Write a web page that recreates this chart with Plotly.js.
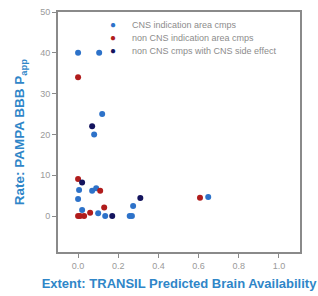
<!DOCTYPE html>
<html><head><meta charset="utf-8">
<script src="https://cdn.plot.ly/plotly-3.0.1.min.js"></script>
<style>html,body{margin:0;padding:0;background:#fff}#c{width:318px;height:296px}</style>
</head><body><div id="c"></div>
<script>
const seriesNames = ["CNS indication area cmps", "non CNS indication area cmps", "non CNS cmps with CNS side effect"];
const seriesColors = ["#2d72c9", "#b01c1c", "#14145e"];
const cnsX = [0.0, 0.105, 0.12, 0.08, 0.005, 0.0, 0.02, 0.1, 0.07, 0.09, 0.135, 0.257, 0.268, 0.274, 0.648];
const cnsY = [40, 40, 25, 20, 6.4, 4.2, 1.5, 0.7, 6.2, 6.8, 0, 0, 0, 2.5, 4.7];
const nonCnsX = [0.0, 0.0, 0.0, 0.01, 0.03, 0.06, 0.11, 0.13, 0.607];
const nonCnsY = [34, 9.1, 0, 0, 0, 0.8, 6.2, 2.1, 4.5];
const sideX = [0.07, 0.02, 0.17, 0.31];
const sideY = [22, 8.2, 0, 4.4];
const xTicks = [0, 0.2, 0.4, 0.6, 0.8, 1.0];
const xTickText = ["0.0", "0.2", "0.4", "0.6", "0.8", "1.0"];
const yTicks = [0, 10, 20, 30, 40, 50];

const xs = [cnsX, nonCnsX, sideX], ys = [cnsY, nonCnsY, sideY];
const traces = seriesNames.map((n, i) => ({
  type: "scatter", mode: "markers", name: n, x: xs[i], y: ys[i],
  marker: {color: seriesColors[i], size: 6}, showlegend: false
}));

const legY = [0.946, 0.892, 0.838];
const annotations = [];
seriesNames.forEach((n, i) => {
  annotations.push({xref: "paper", yref: "paper", x: 0.227, y: legY[i], xanchor: "center", yanchor: "middle",
    text: "●", showarrow: false, font: {family: "Arial", size: 10, color: seriesColors[i]}});
  annotations.push({xref: "paper", yref: "paper", x: 0.298, y: legY[i], xanchor: "left", yanchor: "middle",
    text: n, showarrow: false, font: {family: "Arial", size: 9, color: "#8c8c8c"}});
});

const layout = {
  width: 318, height: 296,
  margin: {l: 58, r: 18, t: 12, b: 44},
  paper_bgcolor: "#fff", plot_bgcolor: "#fff",
  font: {family: "Arial", color: "#999"},
  xaxis: {range: [-0.1, 1.105], tickvals: xTicks, ticktext: xTickText, showgrid: false, zeroline: false,
    showline: true, mirror: true, linecolor: "#8a8a8a", linewidth: 2,
    ticks: "outside", ticklen: 4, tickcolor: "#8a8a8a", tickfont: {size: 9, color: "#9a9a9a"},
    title: {text: "<b>Extent: TRANSIL Predicted Brain Availability</b>", font: {size: 13, color: "#2f86c8"}, standoff: 9}},
  yaxis: {range: [-8.8, 50], tickvals: yTicks, showgrid: false, zeroline: false,
    showline: true, mirror: true, linecolor: "#8a8a8a", linewidth: 2,
    ticks: "outside", ticklen: 4, tickcolor: "#8a8a8a", tickfont: {size: 9, color: "#9a9a9a"},
    title: {text: "<b>Rate: PAMPA BBB P<sub>app</sub></b>", font: {size: 13.5, color: "#2f86c8"}, standoff: 12}},
  annotations: annotations,
  showlegend: false
};
Plotly.newPlot("c", traces, layout, {staticPlot: true, displayModeBar: false});
</script>
</body></html>
